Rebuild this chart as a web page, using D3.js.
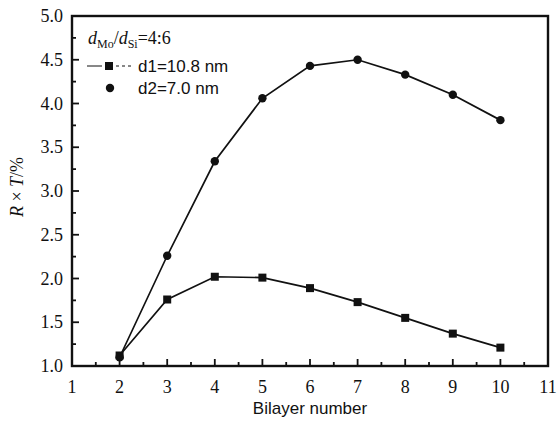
<!DOCTYPE html>
<html>
<head>
<meta charset="utf-8">
<script src="https://cdn.jsdelivr.net/npm/d3@7"></script>
<style>
  html, body { margin: 0; padding: 0; background: #fff; }
  svg { display: block; }
  .tick-label { font-family: "Liberation Serif", "DejaVu Serif", serif; font-size: 18px; fill: #111; }
  .sans { font-family: "Liberation Sans", Arial, sans-serif; fill: #111; }
</style>
</head>
<body>
<svg id="chart" width="557" height="425"></svg>
<script>
const bilayers = [2, 3, 4, 5, 6, 7, 8, 9, 10];
const d1Values = [1.12, 1.76, 2.02, 2.01, 1.89, 1.73, 1.55, 1.37, 1.21];
const d2Values = [1.10, 2.26, 3.34, 4.06, 4.43, 4.50, 4.33, 4.10, 3.81];
const xTicks = [1, 2, 3, 4, 5, 6, 7, 8, 9, 10, 11];
const yTicks = [1.0, 1.5, 2.0, 2.5, 3.0, 3.5, 4.0, 4.5, 5.0];

const svg = d3.select('#chart');
const m = { left: 72, right: 9, top: 16, bottom: 59 };
const W = 557, H = 425;

const x = d3.scaleLinear().domain([1, 11]).range([m.left, W - m.right]);
const y = d3.scaleLinear().domain([1, 5]).range([H - m.bottom, m.top]);

// minor ticks
const xMinor = d3.range(1.5, 11, 1);
const yMinor = d3.range(1.25, 5, 0.5);

const g = svg.append('g');

// ticks point inward
g.selectAll('.xt').data(xTicks).enter().append('line')
  .attr('x1', d => x(d)).attr('x2', d => x(d))
  .attr('y1', y(1)).attr('y2', y(1) - 7)
  .attr('stroke', '#111').attr('stroke-width', 1.8);
g.selectAll('.xm').data(xMinor).enter().append('line')
  .attr('x1', d => x(d)).attr('x2', d => x(d))
  .attr('y1', y(1)).attr('y2', y(1) - 4)
  .attr('stroke', '#111').attr('stroke-width', 1.8);
g.selectAll('.yt').data(yTicks).enter().append('line')
  .attr('x1', x(1)).attr('x2', x(1) + 7)
  .attr('y1', d => y(d)).attr('y2', d => y(d))
  .attr('stroke', '#111').attr('stroke-width', 1.8);
g.selectAll('.ym').data(yMinor).enter().append('line')
  .attr('x1', x(1)).attr('x2', x(1) + 4)
  .attr('y1', d => y(d)).attr('y2', d => y(d))
  .attr('stroke', '#111').attr('stroke-width', 1.8);

// frame
g.append('rect')
  .attr('x', x(1)).attr('y', y(5))
  .attr('width', x(11) - x(1)).attr('height', y(1) - y(5))
  .attr('fill', 'none').attr('stroke', '#111').attr('stroke-width', 2.4);

// tick labels
g.selectAll('.xl').data(xTicks).enter().append('text')
  .attr('class', 'tick-label')
  .attr('x', d => x(d)).attr('y', y(1) + 27)
  .attr('text-anchor', 'middle')
  .text(d => d);
g.selectAll('.yl').data(yTicks).enter().append('text')
  .attr('class', 'tick-label')
  .attr('x', x(1) - 9).attr('y', d => y(d) + 6)
  .attr('text-anchor', 'end')
  .text(d => d.toFixed(1));

// axis titles
g.append('text').attr('class', 'sans')
  .attr('x', x(6)).attr('y', 414)
  .attr('text-anchor', 'middle').attr('font-size', 17)
  .text('Bilayer number');

const yt = g.append('text')
  .attr('transform', `translate(23,${y(3) - 4}) rotate(-90)`)
  .attr('text-anchor', 'middle')
  .attr('font-family', '"Liberation Serif", serif')
  .attr('font-size', 18).attr('fill', '#111');
yt.append('tspan').attr('font-style', 'italic').text('R');
yt.append('tspan').text(' \u00d7 ');
yt.append('tspan').attr('font-style', 'italic').text('T');
yt.append('tspan').text('/%');

// series
const line = d3.line().x((d, i) => x(bilayers[i])).y(d => y(d));
g.append('path').datum(d2Values).attr('d', line)
  .attr('fill', 'none').attr('stroke', '#111').attr('stroke-width', 1.7);
g.append('path').datum(d1Values).attr('d', line)
  .attr('fill', 'none').attr('stroke', '#111').attr('stroke-width', 1.7);

g.selectAll('.c2').data(d2Values).enter().append('circle')
  .attr('cx', (d, i) => x(bilayers[i])).attr('cy', d => y(d))
  .attr('r', 4.2).attr('fill', '#111');
g.selectAll('.s1').data(d1Values).enter().append('rect')
  .attr('x', (d, i) => x(bilayers[i]) - 4).attr('y', d => y(d) - 4)
  .attr('width', 8).attr('height', 8).attr('fill', '#111');

// legend
const lt = g.append('text')
  .attr('x', 88).attr('y', 44)
  .attr('font-family', '"Liberation Serif", serif')
  .attr('font-size', 18).attr('fill', '#111');
lt.append('tspan').attr('font-style', 'italic').text('d');
lt.append('tspan').attr('font-size', 12).attr('dy', 4).text('Mo');
lt.append('tspan').attr('dy', -4).text('/');
lt.append('tspan').attr('font-style', 'italic').text('d');
lt.append('tspan').attr('font-size', 12).attr('dy', 4).text('Si');
lt.append('tspan').attr('dy', -4).text('=4:6');

const ly1 = 66, ly2 = 88;
g.append('line').attr('x1', 87).attr('x2', 102).attr('y1', ly1).attr('y2', ly1)
  .attr('stroke', '#111').attr('stroke-width', 1);
g.append('line').attr('x1', 116).attr('x2', 132).attr('y1', ly1).attr('y2', ly1)
  .attr('stroke', '#111').attr('stroke-width', 1).attr('stroke-dasharray', '3,3');
g.append('rect').attr('x', 105).attr('y', ly1 - 4).attr('width', 8).attr('height', 8).attr('fill', '#111');
g.append('text').attr('class', 'sans').attr('x', 138).attr('y', ly1 + 6)
  .attr('font-size', 17).text('d1=10.8 nm');
g.append('circle').attr('cx', 110).attr('cy', ly2).attr('r', 4.2).attr('fill', '#111');
g.append('text').attr('class', 'sans').attr('x', 138).attr('y', ly2 + 6)
  .attr('font-size', 17).text('d2=7.0 nm');
</script>
</body>
</html>
